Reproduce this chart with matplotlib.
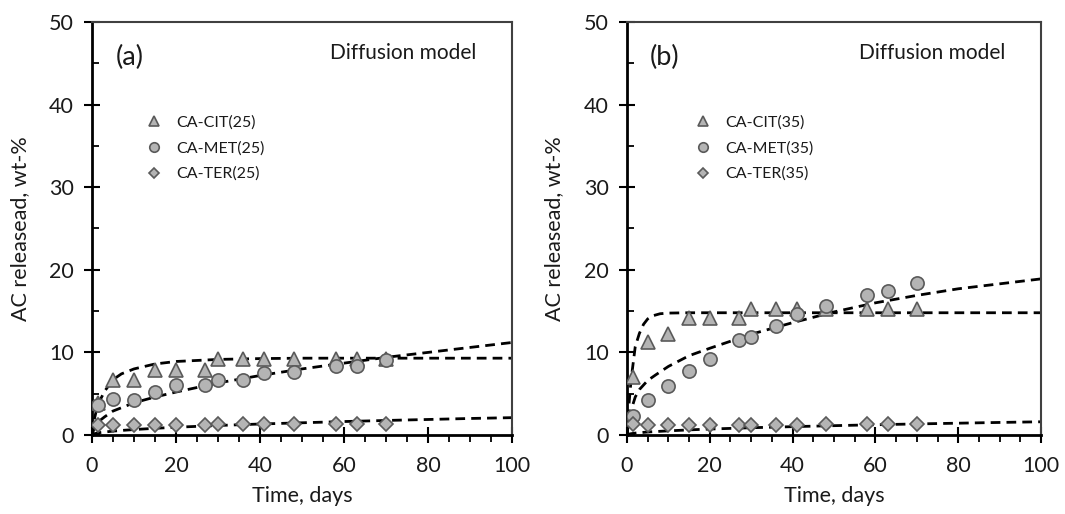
import matplotlib
matplotlib.use("Agg")
import matplotlib.pyplot as plt
from matplotlib.ticker import MultipleLocator

plt.rcParams['font.family'] = ['Lato', 'DejaVu Sans']

# measured release data, days
days = [1.5, 5, 10, 15, 20, 27, 30, 36, 41, 48, 58, 63, 70]

cit25 = [3.9, 6.6, 6.6, 7.9, 7.9, 7.9, 9.2, 9.2, 9.2, 9.2, 9.2, 9.2, 9.2]
met25 = [3.6, 4.3, 4.2, 5.2, 6.0, 6.0, 6.7, 6.7, 7.5, 7.6, 8.3, 8.4, 9.1]
ter25 = [1.2, 1.2, 1.2, 1.2, 1.2, 1.2, 1.3, 1.3, 1.3, 1.3, 1.3, 1.3, 1.3]

cit35 = [7.0, 11.2, 12.2, 14.2, 14.2, 14.2, 15.3, 15.3, 15.3, 15.2, 15.3, 15.3, 15.3]
met35 = [2.3, 4.2, 5.9, 7.8, 9.2, 11.5, 11.9, 13.2, 14.7, 15.6, 16.9, 17.4, 18.4]
ter35 = [1.3, 1.2, 1.2, 1.2, 1.2, 1.2, 1.2, 1.2, 1.2, 1.3, 1.3, 1.3, 1.3]

# diffusion model curves
t_fast = [0, 0.25, 0.5, 1, 1.5, 2, 3, 4, 5, 6, 8, 10, 15, 20, 40, 60, 80, 100]
cit35_fit = [0, 2.1, 3.8, 6.7, 8.7, 10.7, 12.3, 13.4, 14.05, 14.4, 14.68, 14.76,
             14.8, 14.8, 14.8, 14.8, 14.8, 14.8]

t_model = [0, 0.5, 1, 2, 3, 5, 7, 10, 15, 20, 30, 40, 50, 60, 70, 80, 90, 100]
cit25_fit = [0, 1.8, 2.9, 4.3, 5.3, 6.7, 7.4, 8.0, 8.6, 8.9, 9.15, 9.25, 9.3,
             9.3, 9.3, 9.3, 9.3, 9.3]
met25_fit = [0, 0.8, 1.2, 1.8, 2.2, 2.9, 3.3, 3.9, 4.6, 5.2, 6.3, 7.2, 8.0,
             8.7, 9.4, 10.0, 10.6, 11.2]
ter25_fit = [0, 0.15, 0.2, 0.3, 0.36, 0.47, 0.55, 0.66, 0.81, 0.94, 1.15, 1.33,
             1.48, 1.63, 1.76, 1.88, 2.0, 2.1]
met35_fit = [0, 2.0, 3.0, 4.6, 5.5, 6.6, 7.3, 8.3, 9.6, 10.5, 12.2, 13.6, 14.9,
             16.0, 16.9, 17.7, 18.3, 18.9]
ter35_fit = [0, 0.11, 0.16, 0.23, 0.28, 0.36, 0.42, 0.5, 0.62, 0.72, 0.88, 1.01,
             1.13, 1.24, 1.34, 1.43, 1.52, 1.6]

TXT = '#1a1a1a'
FILL = '#b4b4b4'
EDGE = '#5a5a5a'


def style_axes(ax):
    ax.set_xlim(0, 100)
    ax.set_ylim(0, 50)
    ax.xaxis.set_major_locator(MultipleLocator(20))
    ax.xaxis.set_minor_locator(MultipleLocator(5))
    ax.yaxis.set_major_locator(MultipleLocator(10))
    ax.yaxis.set_minor_locator(MultipleLocator(5))
    ax.tick_params(axis='both', which='major', direction='inout', length=12,
                   width=1.5, labelsize=15.5, colors='black', labelcolor=TXT,
                   top=False, right=False)
    ax.tick_params(axis='x', which='major', pad=9)
    ax.tick_params(axis='y', which='major', pad=7)
    ax.tick_params(axis='x', which='minor', direction='out', length=5, width=1.3)
    ax.tick_params(axis='y', which='minor', direction='in', length=5, width=1.3)
    for s in ['left', 'bottom']:
        ax.spines[s].set_linewidth(2)
        ax.spines[s].set_color('black')
    for s in ['top', 'right']:
        ax.spines[s].set_linewidth(1.5)
        ax.spines[s].set_color('#404040')
    ax.set_xlabel('Time, days', fontsize=15.5, color=TXT, labelpad=7)
    ax.set_ylabel('AC releasead, wt-%', fontsize=15.5, color=TXT, labelpad=14)


def plot_panel(ax, tag, cit, met, ter, fits, names, leg_x):
    dash = dict(color='black', linestyle=(0, (3.5, 2.2)), linewidth=2, zorder=2)
    for t, f in fits:
        ax.plot(t, f, **dash)
    ax.plot(days, cit, '^', ms=10.5, mfc=FILL, mec=EDGE, mew=1.2, label=names[0], zorder=3)
    ax.plot(days, met, 'o', ms=9.5, mfc=FILL, mec=EDGE, mew=1.2, label=names[1], zorder=3)
    ax.plot(days, ter, 'D', ms=7, mfc=FILL, mec=EDGE, mew=1.2, label=names[2], zorder=3)
    style_axes(ax)
    ax.text(0.09, 0.915, tag, transform=ax.transAxes, fontsize=19.5, color=TXT,
            ha='center', va='center')
    ax.text(0.915, 0.925, 'Diffusion model', transform=ax.transAxes, fontsize=15,
            color=TXT, ha='right', va='center')
    leg = ax.legend(loc='upper left', bbox_to_anchor=(leg_x, 0.79), frameon=False,
                    fontsize=11.5, handlelength=1.2, handletextpad=0.8,
                    labelspacing=0.72, markerscale=0.72, borderaxespad=0)
    for txt in leg.get_texts():
        txt.set_color(TXT)


fig = plt.figure(figsize=(10.65, 5.14), dpi=100)
ax1 = fig.add_axes([0.0864, 0.1537, 0.3944, 0.8035])
ax2 = fig.add_axes([0.5887, 0.1537, 0.3888, 0.8035])

plot_panel(ax1, '(a)', cit25, met25, ter25,
           [(t_model, cit25_fit), (t_model, met25_fit), (t_model, ter25_fit)],
           ['CA-CIT(25)', 'CA-MET(25)', 'CA-TER(25)'], 0.11)
plot_panel(ax2, '(b)', cit35, met35, ter35,
           [(t_fast, cit35_fit), (t_model, met35_fit), (t_model, ter35_fit)],
           ['CA-CIT(35)', 'CA-MET(35)', 'CA-TER(35)'], 0.145)

fig.savefig('out.png', dpi=100)
